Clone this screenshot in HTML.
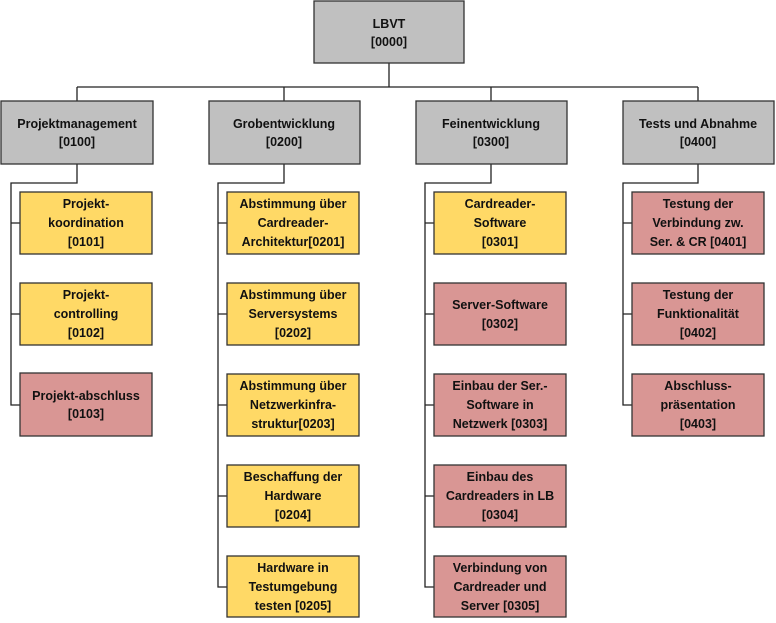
<!DOCTYPE html>
<html><head><meta charset="utf-8"><style>
html,body{margin:0;padding:0;background:#fff;}
svg{display:block;}
text{font-family:"Liberation Sans",sans-serif;font-weight:bold;font-size:12.5px;fill:#111;text-anchor:middle;}
.g{fill:#c0c0c0;stroke:#333;stroke-width:1.3}
.y{fill:#ffd966;stroke:#333;stroke-width:1.3}
.p{fill:#d99694;stroke:#333;stroke-width:1.3}
.l{stroke:#222;stroke-width:1.3;fill:none}
</style></head><body>
<svg width="776" height="623" viewBox="0 0 776 623" xmlns="http://www.w3.org/2000/svg">
<!-- connectors -->
<path class="l" d="M389 63V87M77 87H698M77 87V101M284 87V101M491 87V101M698 87V101"/>
<path class="l" d="M77 164V183H11V405H20M11 223H20M11 314H20"/>
<path class="l" d="M284 164V183H218V587H227M218 223H227M218 314H227M218 405H227M218 496H227"/>
<path class="l" d="M491 164V183H425V587H434M425 223H434M425 314H434M425 405H434M425 496H434"/>
<path class="l" d="M698 164V183H623V405H632M623 223H632M623 314H632"/>
<!-- top -->
<rect class="g" x="314" y="1" width="150" height="62"/>
<text x="389" y="28">LBVT</text><text x="389" y="46">[0000]</text>
<!-- level 2 -->
<rect class="g" x="1" y="101" width="152" height="63"/>
<text x="77" y="128">Projektmanagement</text><text x="77" y="146">[0100]</text>
<rect class="g" x="209" y="101" width="151" height="63"/>
<text x="284" y="128">Grobentwicklung</text><text x="284" y="146">[0200]</text>
<rect class="g" x="416" y="101" width="151" height="63"/>
<text x="491" y="128">Feinentwicklung</text><text x="491" y="146">[0300]</text>
<rect class="g" x="623" y="101" width="151" height="63"/>
<text x="698" y="128">Tests und Abnahme</text><text x="698" y="146">[0400]</text>
<!-- col1 -->
<rect class="y" x="20" y="192" width="132" height="62"/>
<text x="86" y="208">Projekt-</text><text x="86" y="227">koordination</text><text x="86" y="246">[0101]</text>
<rect class="y" x="20" y="283" width="132" height="62"/>
<text x="86" y="299">Projekt-</text><text x="86" y="318">controlling</text><text x="86" y="337">[0102]</text>
<rect class="p" x="20" y="373" width="132" height="63"/>
<text x="86" y="400">Projekt-abschluss</text><text x="86" y="418">[0103]</text>
<!-- col2 -->
<rect class="y" x="227" y="192" width="132" height="62"/>
<text x="293" y="208">Abstimmung über</text><text x="293" y="227">Cardreader-</text><text x="293" y="246">Architektur[0201]</text>
<rect class="y" x="227" y="283" width="132" height="62"/>
<text x="293" y="299">Abstimmung über</text><text x="293" y="318">Serversystems</text><text x="293" y="337">[0202]</text>
<rect class="y" x="227" y="374" width="132" height="62"/>
<text x="293" y="390">Abstimmung über</text><text x="293" y="409">Netzwerkinfra-</text><text x="293" y="428">struktur[0203]</text>
<rect class="y" x="227" y="465" width="132" height="62"/>
<text x="293" y="481">Beschaffung der</text><text x="293" y="500">Hardware</text><text x="293" y="519">[0204]</text>
<rect class="y" x="227" y="556" width="132" height="61"/>
<text x="293" y="572">Hardware in</text><text x="293" y="591">Testumgebung</text><text x="293" y="610">testen [0205]</text>
<!-- col3 -->
<rect class="y" x="434" y="192" width="132" height="62"/>
<text x="500" y="208">Cardreader-</text><text x="500" y="227">Software</text><text x="500" y="246">[0301]</text>
<rect class="p" x="434" y="283" width="132" height="62"/>
<text x="500" y="309">Server-Software</text><text x="500" y="328">[0302]</text>
<rect class="p" x="434" y="374" width="132" height="62"/>
<text x="500" y="390">Einbau der Ser.-</text><text x="500" y="409">Software in</text><text x="500" y="428">Netzwerk [0303]</text>
<rect class="p" x="434" y="465" width="132" height="62"/>
<text x="500" y="481">Einbau des</text><text x="500" y="500">Cardreaders in LB</text><text x="500" y="519">[0304]</text>
<rect class="p" x="434" y="556" width="132" height="61"/>
<text x="500" y="572">Verbindung von</text><text x="500" y="591">Cardreader und</text><text x="500" y="610">Server [0305]</text>
<!-- col4 -->
<rect class="p" x="632" y="192" width="132" height="62"/>
<text x="698" y="208">Testung der</text><text x="698" y="227">Verbindung zw.</text><text x="698" y="246">Ser. &amp; CR [0401]</text>
<rect class="p" x="632" y="283" width="132" height="62"/>
<text x="698" y="299">Testung der</text><text x="698" y="318">Funktionalität</text><text x="698" y="337">[0402]</text>
<rect class="p" x="632" y="374" width="132" height="62"/>
<text x="698" y="390">Abschluss-</text><text x="698" y="409">präsentation</text><text x="698" y="428">[0403]</text>
</svg>
</body></html>
